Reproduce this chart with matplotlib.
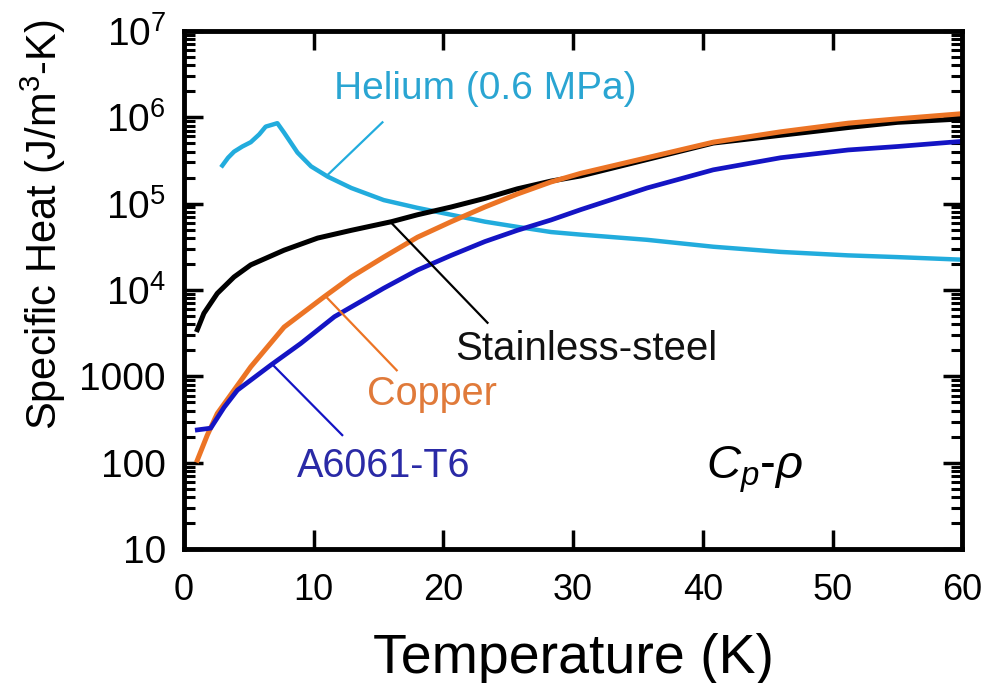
import numpy as np
import matplotlib
matplotlib.use('Agg')
import matplotlib.pyplot as plt
from matplotlib.ticker import LogLocator, FixedLocator, FixedFormatter, NullFormatter

plt.rcParams['font.family'] = ['Liberation Sans', 'DejaVu Sans']
plt.rcParams['mathtext.fontset'] = 'custom'
plt.rcParams['mathtext.rm'] = 'Liberation Sans'
plt.rcParams['mathtext.it'] = 'Liberation Sans:italic'

# 헬륨 (0.6 MPa) - log10 값
he_T = [2.96, 3.4, 3.86, 4.5, 5.15, 5.8, 6.3, 7.2, 7.72, 8.75, 9.8, 11.1, 12.9, 15.4,
        18.0, 20.6, 23.2, 25.7, 28.3, 30.6, 35.7, 40.8, 46.0, 51.2, 55, 60]
he_log = [5.44, 5.53, 5.60, 5.66, 5.71, 5.80, 5.89, 5.93, 5.82, 5.59, 5.43, 5.31, 5.18, 5.04,
          4.95, 4.87, 4.79, 4.73, 4.67, 4.64, 4.58, 4.50, 4.44, 4.40, 4.38, 4.35]

# 스테인리스강
ss_T = [1.03, 1.54, 2.57, 3.86, 5.15, 7.72, 10.3, 12.9, 16.0, 18.0, 20.6, 23.2, 25.7, 28.3,
        30.6, 35.7, 40.8, 46.0, 51.2, 55, 60]
ss_log = [3.54, 3.73, 3.96, 4.15, 4.29, 4.46, 4.60, 4.69, 4.79, 4.87, 4.96, 5.06, 5.17, 5.26,
          5.32, 5.51, 5.70, 5.79, 5.88, 5.94, 5.98]

# 구리
cu_T = [1.03, 1.8, 2.57, 3.86, 5.15, 7.72, 10.8, 12.9, 15.4, 18.0, 20.6, 23.2, 25.7, 28.3,
        30.6, 35.7, 40.8, 46.0, 51.2, 55, 60]
cu_log = [2.03, 2.32, 2.57, 2.84, 3.11, 3.57, 3.92, 4.15, 4.38, 4.61, 4.79, 4.96, 5.11, 5.25,
          5.35, 5.53, 5.71, 5.83, 5.93, 5.98, 6.04]

# A6061-T6
al_T = [1.03, 2.06, 3.09, 4.12, 6.69, 9.0, 11.6, 15.4, 18.0, 20.6, 23.2, 25.7, 28.3, 30.6,
        35.7, 40.8, 46.0, 51.2, 55, 60]
al_log = [2.38, 2.40, 2.64, 2.84, 3.13, 3.38, 3.69, 4.02, 4.23, 4.40, 4.56, 4.69, 4.81, 4.93,
          5.18, 5.39, 5.53, 5.62, 5.66, 5.72]

yticks = [10, 100, 1000, 1e4, 1e5, 1e6, 1e7]
ylabels = ['10', '100', '1000', '10$^{4}$', '10$^{5}$', '10$^{6}$', '10$^{7}$']
xticks = [0, 10, 20, 30, 40, 50, 60]

he_c = '#22ACDD'
cu_c = '#EC7425'
al_c = '#1414C4'

fig = plt.figure(figsize=(9.89, 6.83), dpi=100)
ax = fig.add_axes([0.186, 0.196, 0.787, 0.759])

ax.plot(he_T, 10 ** np.array(he_log), color=he_c, lw=3.2, solid_joinstyle='round')
ax.plot(ss_T, 10 ** np.array(ss_log), color='black', lw=3.6, solid_joinstyle='round')
ax.plot(cu_T, 10 ** np.array(cu_log), color=cu_c, lw=3.6, solid_joinstyle='round')
ax.plot(al_T, 10 ** np.array(al_log), color=al_c, lw=3.4, solid_joinstyle='round')

# 지시선
ax.plot([15.3, 11.0], [10 ** 5.94, 10 ** 5.32], color=he_c, lw=1.6)
ax.plot([15.9, 23.4], [10 ** 4.79, 10 ** 3.62], color='black', lw=1.6)
ax.plot([10.9, 16.4], [10 ** 3.93, 10 ** 3.07], color=cu_c, lw=1.6)
ax.plot([6.8, 12.2], [10 ** 3.14, 10 ** 2.32], color=al_c, lw=1.6)

ax.text(23.2, 10 ** 6.33, 'Helium (0.6 MPa)', color='#2AA5D2', fontsize=28, ha='center', va='center')
ax.text(31.0, 10 ** 3.19, 'Stainless-steel', color='#111111', fontsize=29, ha='center', va='baseline')
ax.text(19.1, 10 ** 2.67, 'Copper', color='#E07A3A', fontsize=28.5, ha='center', va='baseline')
ax.text(15.4, 10 ** 1.83, 'A6061-T6', color='#2A2AA6', fontsize=28.5, ha='center', va='baseline')
ax.text(44.0, 10 ** 1.82, r'$C_{p}$-$\rho$', color='black', fontsize=34, ha='center', va='baseline')

ax.set_yscale('log')
ax.set_xlim(0, 60)
ax.set_ylim(10, 1e7)
ax.xaxis.set_major_locator(FixedLocator(xticks))
ax.yaxis.set_major_locator(FixedLocator(yticks))
ax.yaxis.set_major_formatter(FixedFormatter(ylabels))
ax.yaxis.set_minor_locator(LogLocator(base=10, subs=np.arange(2, 10), numticks=20))
ax.yaxis.set_minor_formatter(NullFormatter())

ax.tick_params(which='both', direction='in', top=True, right=True, width=2.5)
ax.tick_params(which='major', length=14)
ax.tick_params(which='minor', length=8, width=2.2)
ax.tick_params(axis='x', pad=17, labelsize=26)
ax.tick_params(axis='y', pad=13, labelsize=28)
for s in ax.spines.values():
    s.set_linewidth(3.5)

ax.set_xlabel('Temperature (K)', fontsize=40)
ax.xaxis.set_label_coords(0.5, -0.161)
ax.set_ylabel('Specific Heat (J/m$^{3}$-K)', fontsize=30)
ax.yaxis.set_label_coords(-0.149, 0.625)

fig.savefig('out.png', dpi=100)
